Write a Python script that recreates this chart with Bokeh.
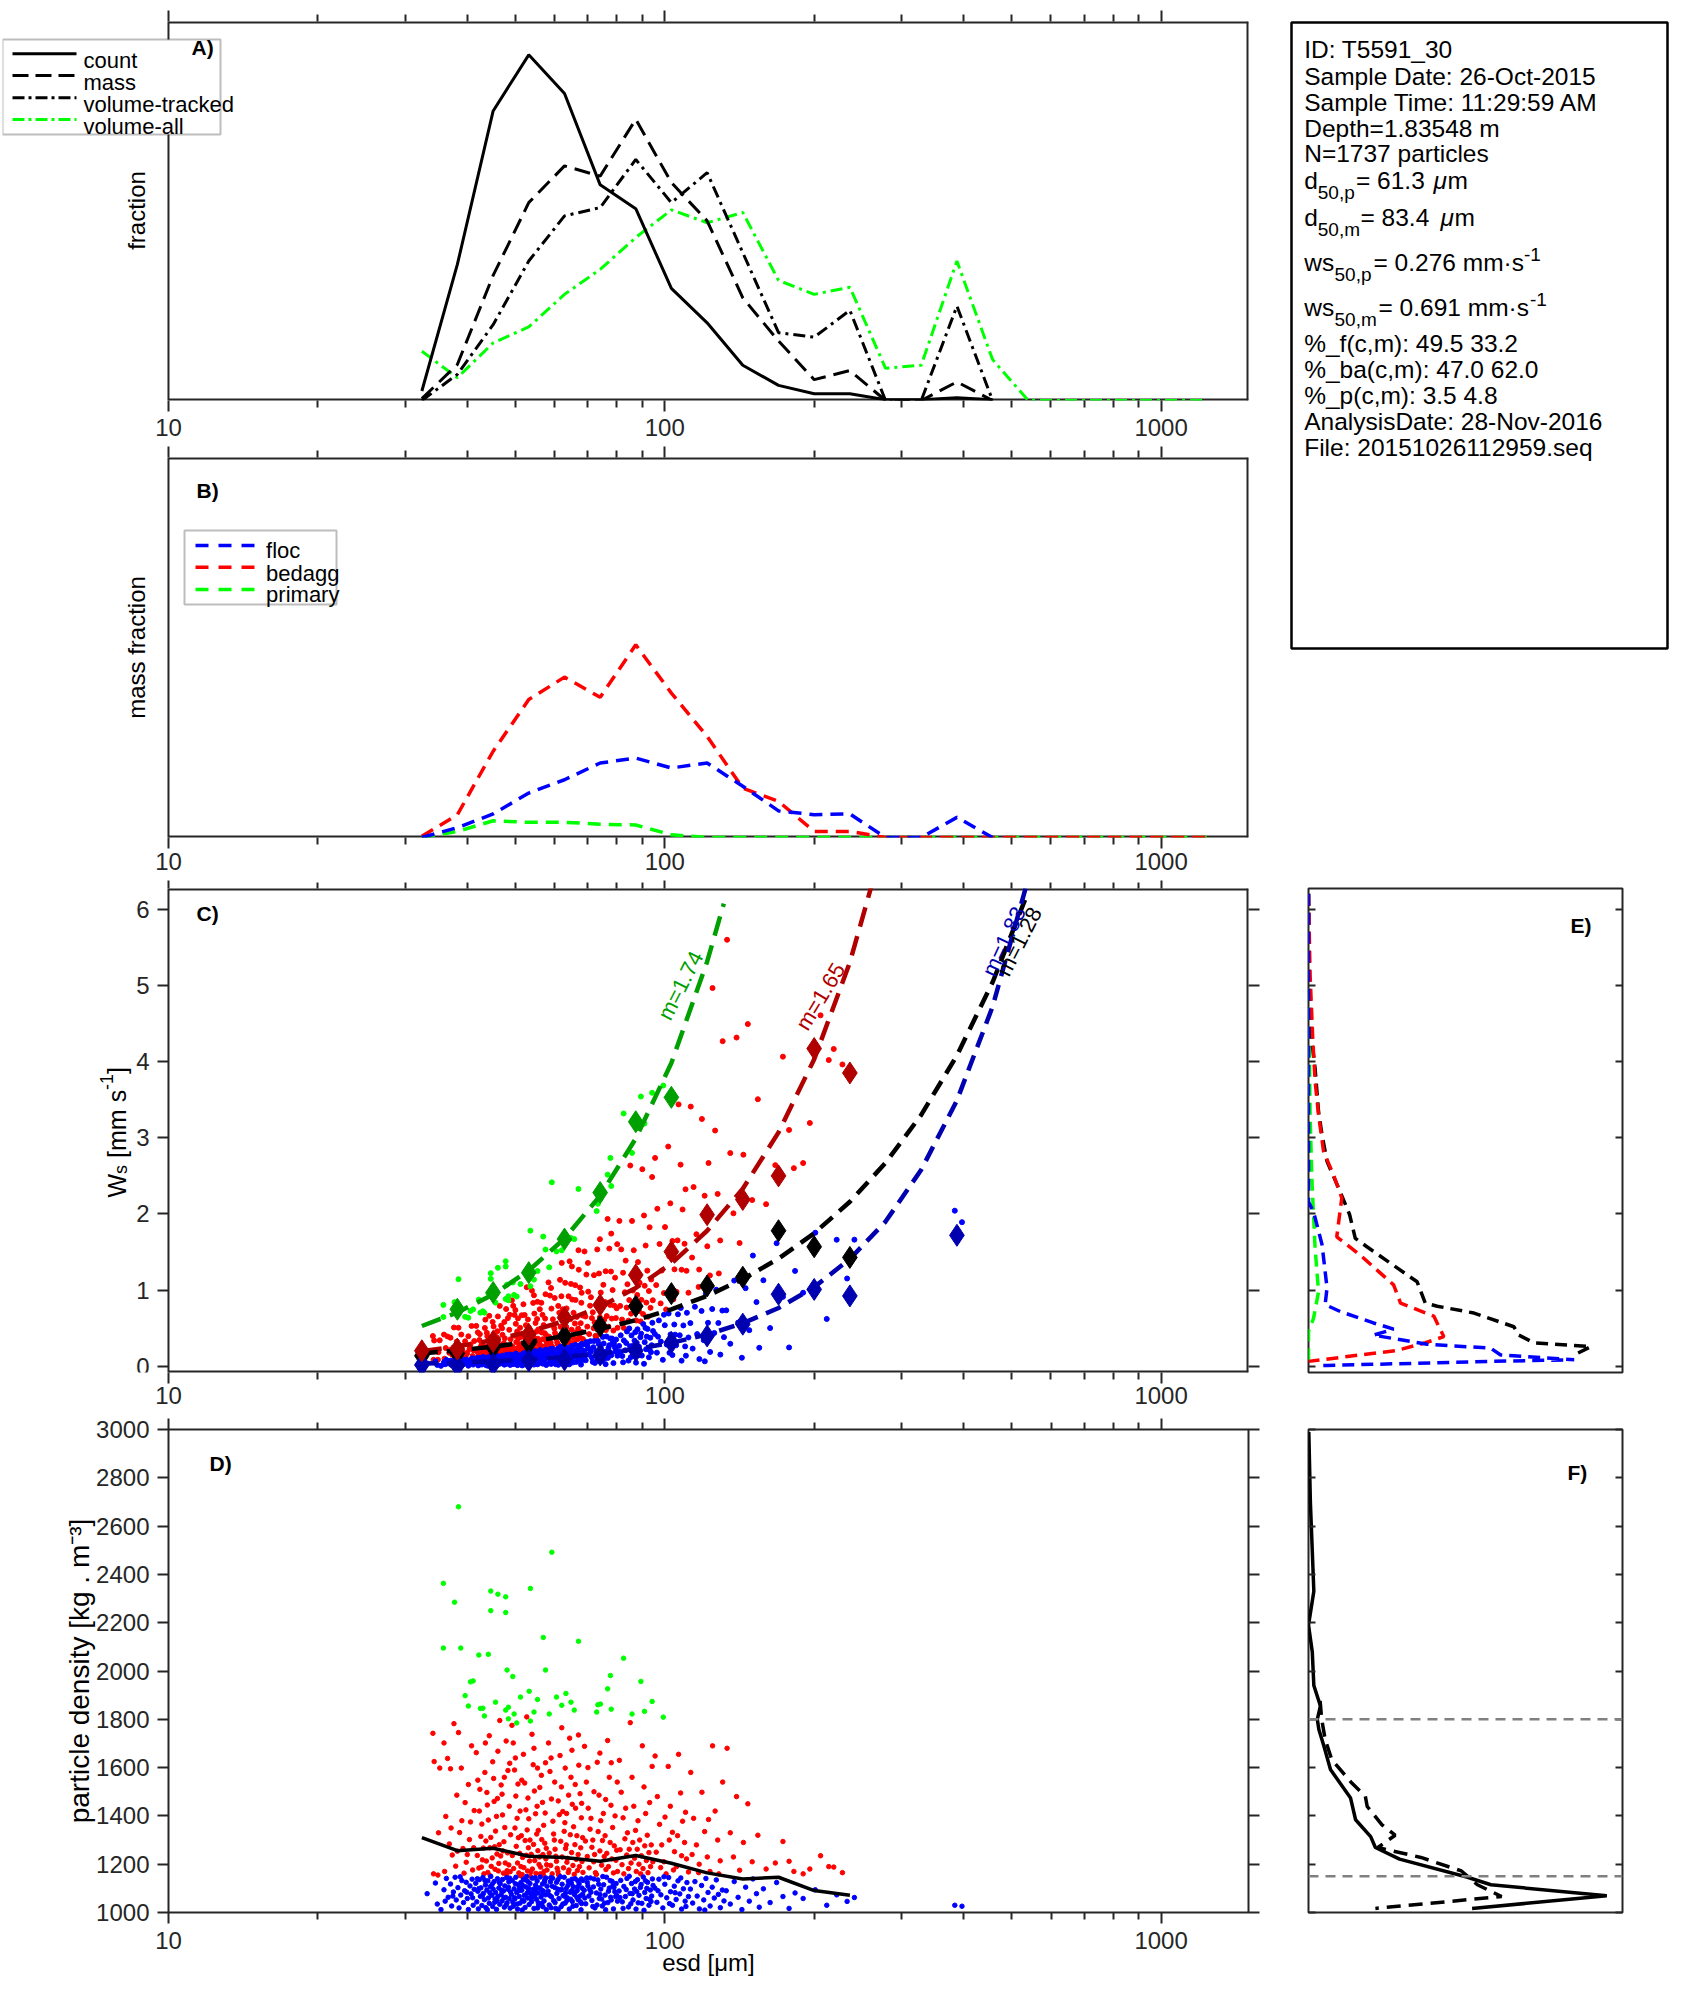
from math import pi
from bokeh.plotting import figure
from bokeh.layouts import column, row
from bokeh.models import (FixedTicker, LogAxis, LinearAxis, NumeralTickFormatter,
                          Label, Arrow, PolyAnnotation, Span)
from bokeh.embed import file_html
from bokeh.resources import INLINE

FONT = "Liberation Sans"
AX = "#262626"

# ---------------- data ----------------
ESD = [32.4, 38.2, 45.1, 53.2, 62.8, 74.1, 87.4, 103.1, 121.7, 143.6, 169.5,
       200.0, 236.0, 278.5, 328.6, 387.8, 457.6, 540.0, 637.2, 752.0, 887.3,
       1047.0, 1235.5]

A_COUNT = [0.025, 0.359, 0.764, 0.912, 0.810, 0.569, 0.506, 0.296, 0.205, 0.093,
           0.040, 0.018, 0.018, 0.002, 0.002, 0.007, 0.002]
A_MASS = [0.005, 0.095, 0.33, 0.522, 0.619, 0.592, 0.742, 0.575, 0.474, 0.271,
          0.157, 0.055, 0.079, 0.0, 0.0, 0.049, 0.0]
A_VOL_TRK = [0.0, 0.069, 0.20, 0.368, 0.487, 0.509, 0.636, 0.522, 0.601, 0.39,
             0.179, 0.167, 0.238, 0.0, 0.0, 0.249, 0.0]
A_VOL_ALL = [0.130, 0.060, 0.152, 0.194, 0.280, 0.346, 0.430, 0.503, 0.469, 0.496,
             0.317, 0.280, 0.299, 0.085, 0.093, 0.368, 0.108, 0, 0, 0, 0, 0, 0]

B_FLOC = [0.0, 0.026, 0.062, 0.117, 0.152, 0.196, 0.209, 0.183, 0.196, 0.135,
          0.070, 0.060, 0.062, 0.0, 0.0, 0.053, 0.0]
B_BEDAGG = [0.003, 0.060, 0.227, 0.363, 0.422, 0.369, 0.507, 0.380, 0.266, 0.130,
            0.095, 0.016, 0.016, 0, 0, 0, 0, 0, 0, 0, 0, 0, 0]
B_PRIMARY = [0.0, 0.016, 0.044, 0.040, 0.040, 0.035, 0.033, 0.007, 0, 0, 0, 0, 0,
             0, 0, 0, 0, 0, 0, 0, 0, 0, 0]

C_MED_PRIMARY = [0.75, 0.97, 1.23, 1.67, 2.28, 3.21, 3.53]
C_MED_BEDAGG = [0.205, 0.227, 0.327, 0.423, 0.64, 0.807, 1.2, 1.505, 1.99, 2.19,
                2.50, 4.17, 3.85]
C_MED_ALL = [0.14, 0.17, 0.25, 0.30, 0.40, 0.53, 0.79, 0.955, 1.056, 1.17, 1.78,
             1.57, 1.43]
C_MED_FLOC_ESD = [32.4, 38.2, 45.1, 53.2, 62.8, 74.1, 87.4, 103.1, 121.7, 143.6,
                  169.5, 200.0, 236.0, 387.8]
C_MED_FLOC = [0.02, 0.01, 0.03, 0.074, 0.087, 0.15, 0.205, 0.314, 0.40, 0.554,
              0.947, 1.01, 0.925, 1.72]

FIT_PRIMARY_ESD = [32.4, 38.2, 45.1, 53.2, 62.8, 74.1, 87.4, 103.1, 121.7, 131.5]
FIT_PRIMARY = [0.53, 0.707, 0.943, 1.258, 1.678, 2.24, 2.99, 3.98, 5.31, 6.07]
FIT_BEDAGG = [0.2, 0.263, 0.345, 0.454, 0.596, 0.783, 1.03, 1.35, 1.78, 2.33, 3.07,
              4.03, 5.30, 6.96]
FIT_ALL = [0.17, 0.21, 0.26, 0.321, 0.397, 0.490, 0.606, 0.749, 0.925, 1.144,
           1.414, 1.747, 2.16, 2.67, 3.30, 4.08, 5.04, 6.23]
FIT_FLOC = [0.037, 0.050, 0.068, 0.092, 0.124, 0.168, 0.228, 0.309, 0.418, 0.566,
            0.766, 1.04, 1.41, 1.90, 2.58, 3.49, 4.72, 6.40]
FIT_LABELS = ["m=1.74", "m=1.65", "m=1.28", "m=1.83"]

D_MED = [1310, 1256, 1266, 1233, 1228, 1212, 1236, 1204, 1164, 1139, 1146, 1091, 1071]

P_PRIMARY = [(38.4,2680),(35.8,2363),(37.7,2285),(35.8,2095),(38.8,2095),(44.6,2331),
 (46.1,2318),(47.8,2307),(44.6,2250),(47.8,2242),(53.6,2342),(59.2,2492),(56.9,2139),
 (42.2,2066),(44.1,2069),(67.0,2123),(57.5,2004),(48.1,2004),(49.4,1977),(41.1,1959),
 (40.6,1955),(39.6,1898),(82.6,2053),(77.7,1981),(89.5,1957),(76.7,1926),(63.2,1907),
 (60.5,1892),(53.3,1916),(51.2,1892),(55.4,1882),(64.7,1871),(62.0,1858),(45.6,1871),
 (42.5,1845),(43.0,1846),(48.4,1850),(47.8,1838),(65.7,1838),(40.2,1855),(73.3,1860),
 (74.2,1863),(94.3,1874),(91.0,1833),(78.0,1842),(72.9,1830),(43.3,1814),(48.4,1802),
 (49.7,1822),(54.5,1830),(58.5,1822),(85.9,1822),(99.3,1809),(53.6,1793),(50.3,1785)]

P_BEDAGG = [(34.1,1742),(34.3,1625),(35.2,1598),(35.0,1330),(34.2,1160),(34.9,1155),
 (35.9,1702),(36.5,1638),(37.0,1595),(37.6,1782),(38.1,1486),(38.4,1745),(39.0,1380),
 (39.6,1455),(40.2,1530),(40.8,1690),(36.2,1398),(36.8,1284),(37.3,1238),(37.9,1192),
 (38.6,1331),(39.2,1265),(39.8,1208),(40.4,1302),(41.0,1176),(41.3,1422),(36.0,1170),
 (37.1,1350),(38.2,1254),(39.4,1163),(40.0,1240),(40.6,1375),(41.2,1268),(38.9,1598),
 (41.7,1662),(42.0,1548),(42.3,1420),(42.6,1315),(42.9,1218),(43.2,1160),(43.5,1702),
 (43.8,1497),(44.1,1383),(44.4,1268),(44.7,1191),(45.0,1624),(45.3,1460),(45.6,1337),
 (45.9,1242),(46.2,1172),(46.5,1795),(46.8,1528),(47.1,1404),(47.4,1293),(47.7,1205),
 (48.0,1158),(48.3,1588),(48.6,1440),(48.9,1322),(41.9,1236),(42.2,1184),(42.8,1366),
 (43.1,1267),(43.7,1213),(44.0,1166),(44.6,1311),(44.9,1226),(45.5,1179),(45.8,1398),
 (46.4,1281),(46.7,1234),(47.3,1163),(47.6,1352),(48.2,1247),(48.5,1197),(48.8,1169),
 (42.4,1510),(43.4,1580),(44.3,1732),(45.2,1555),(46.1,1668),(47.0,1490),(47.9,1710),
 (48.7,1618),(42.7,1188),(43.6,1296),(44.5,1152),(45.4,1272),(46.3,1203),(47.2,1255),
 (48.1,1173),(46.0,1472),(43.9,1445),(47.5,1560),
 (49.2,1775),(49.5,1702),(49.8,1590),(50.1,1482),(50.4,1390),(50.7,1310),(51.0,1245),
 (51.3,1190),(51.6,1157),(51.9,1655),(52.2,1536),(52.5,1425),(52.8,1342),(53.1,1268),
 (53.4,1213),(53.7,1168),(54.0,1738),(54.3,1612),(54.6,1503),(54.9,1409),(55.2,1325),
 (55.5,1256),(55.8,1199),(56.1,1160),(56.4,1568),(56.7,1456),(57.0,1361),(57.3,1287),
 (57.6,1222),(57.9,1176),(49.3,1236),(49.6,1182),(49.9,1350),(50.2,1274),(50.5,1205),
 (50.8,1164),(51.1,1420),(51.4,1318),(51.7,1228),(52.0,1186),(52.3,1298),(52.6,1237),
 (52.9,1172),(53.2,1388),(53.5,1300),(53.8,1241),(54.1,1180),(54.4,1282),(54.7,1215),
 (55.0,1162),(55.3,1440),(55.6,1340),(55.9,1230),(56.2,1188),(56.5,1302),(56.8,1240),
 (57.1,1170),(57.4,1412),(57.7,1266),(57.8,1198),(50.0,1640),(51.5,1548),(53.0,1474),
 (54.5,1680),(56.0,1518),(57.5,1620),(52.7,1810),(50.6,1532),(55.4,1598),(53.6,1150),
 (51.2,1152),(56.9,1155),
 (58.3,1702),(58.7,1584),(59.1,1470),(59.5,1378),(59.9,1300),(60.3,1233),(60.7,1183),
 (61.1,1156),(61.5,1650),(61.9,1520),(62.3,1418),(62.7,1336),(63.1,1265),(63.5,1208),
 (63.9,1166),(64.3,1722),(64.7,1560),(65.1,1448),(65.5,1355),(65.9,1281),(66.3,1220),
 (66.7,1174),(67.1,1610),(67.5,1492),(67.9,1392),(68.3,1310),(58.5,1246),(58.9,1195),
 (59.3,1160),(59.7,1325),(60.1,1262),(60.5,1212),(60.9,1170),(61.3,1405),(61.7,1295),
 (62.1,1230),(62.5,1185),(62.9,1372),(63.3,1280),(63.7,1224),(64.1,1176),(64.5,1322),
 (64.9,1248),(65.3,1195),(65.7,1158),(66.1,1432),(66.5,1318),(66.9,1240),(67.3,1190),
 (67.7,1268),(68.1,1211),(68.4,1166),(59.0,1640),(60.0,1540),(61.0,1462),(62.0,1765),
 (63.0,1598),(64.0,1486),(65.0,1672),(66.0,1530),(67.0,1735),(68.0,1452),(63.4,1410),
 (68.9,1688),(69.5,1540),(70.1,1432),(70.7,1345),(71.3,1270),(71.9,1210),(72.5,1165),
 (73.1,1622),(73.7,1486),(74.3,1380),(74.9,1298),(75.5,1232),(76.1,1178),(76.7,1712),
 (77.3,1560),(77.9,1444),(78.5,1352),(79.1,1276),(79.7,1216),(80.3,1170),(69.2,1296),
 (69.8,1232),(70.4,1185),(71.0,1390),(71.6,1300),(72.2,1240),(72.8,1158),(73.4,1335),
 (74.0,1255),(74.6,1196),(75.2,1410),(75.8,1318),(76.4,1245),(77.0,1190),(77.6,1290),
 (78.2,1222),(78.8,1164),(79.4,1400),(80.0,1258),(70.0,1600),(72.0,1500),(74.0,1660),
 (76.0,1468),(78.0,1620),(80.2,1540),
 (81.0,1630),(81.7,1498),(82.4,1392),(83.1,1305),(83.8,1238),(84.5,1182),(85.2,1786),
 (85.9,1560),(86.6,1440),(87.3,1340),(88.0,1262),(88.7,1200),(89.4,1160),(90.1,1690),
 (90.8,1520),(91.5,1410),(92.2,1320),(92.9,1248),(93.6,1190),(94.3,1605),(81.3,1260),
 (82.0,1198),(82.7,1160),(83.4,1432),(84.1,1330),(84.8,1262),(85.5,1205),(86.2,1290),
 (86.9,1225),(87.6,1170),(88.3,1380),(89.0,1300),(89.7,1235),(90.4,1182),(91.1,1276),
 (91.8,1215),(92.5,1165),(93.2,1455),(93.9,1280),(94.6,1210),
 (95.6,1648),(96.6,1480),(97.6,1365),(98.6,1280),(99.6,1210),(100.6,1160),(101.6,1605),
 (102.6,1440),(103.6,1332),(104.6,1252),(105.6,1190),(106.6,1655),(107.6,1495),
 (108.6,1378),(109.6,1290),(110.6,1222),(111.6,1168),(96.1,1250),(98.1,1186),
 (100.1,1395),(102.1,1300),(104.1,1176),(106.1,1318),(108.1,1235),(110.1,1415),
 (112.8,1580),(114.3,1390),(115.8,1280),(117.3,1200),(118.8,1498),(120.3,1335),
 (121.8,1230),(123.3,1170),(124.8,1690),(126.3,1420),(127.8,1300),(129.3,1214),
 (130.8,1540),(113.5,1240),(117.0,1165),(122.5,1385),(128.5,1160),
 (133.5,1680),(135.5,1330),(137.5,1230),(139.5,1480),(141.5,1175),(144.0,1290),
 (147.0,1450),(150.0,1210),(154.0,1320),(160.0,1180),(167.0,1205),(173.0,1294),
 (178.0,1212),(182.0,1170),(190.0,1160),(196.0,1180),(206.0,1235),(214.0,1190),
 (219.0,1188),(228.0,1165)]

P_FLOC = [(33.2,1078),(34.5,1122),(34.8,1035),
 (35.4,1012),(35.9,1094),(36.3,1141),(36.6,1063),(37.0,1118),(37.2,1027),(37.5,1085),
 (37.8,1146),(38.0,1052),(38.3,1103),(38.5,1019),(38.8,1072),(39.0,1132),(39.3,1041),
 (39.5,1090),(39.8,1125),(40.0,1058),(40.2,1012),(40.5,1110),(40.7,1077),(40.9,1138),
 (41.1,1030),(41.3,1096),(36.1,1047),(37.4,1068),(38.7,1148),(39.9,1084),(41.0,1061),
 (41.6,1121),(41.8,1044),(42.0,1088),(42.1,1015),(42.3,1136),(42.5,1067),(42.6,1102),
 (42.8,1029),(43.0,1145),(43.1,1079),(43.3,1053),(43.5,1114),(43.6,1020),(43.8,1093),
 (44.0,1131),(44.1,1060),(44.3,1038),(44.5,1107),(44.6,1149),(44.8,1071),(45.0,1025),
 (45.1,1097),(45.3,1128),(45.5,1056),(45.6,1083),(45.8,1013),(46.0,1140),(46.1,1066),
 (46.3,1101),(46.5,1034),(46.6,1119),(46.8,1075),(47.0,1048),(47.1,1137),(47.3,1089),
 (47.5,1022),(47.6,1110),(47.8,1063),(48.0,1144),(48.1,1040),(48.3,1096),(48.5,1127),
 (48.6,1057),(48.8,1018),(48.9,1085),(42.2,1099),(43.4,1133),(44.4,1082),(45.4,1042),
 (46.4,1124),(47.4,1061),(48.4,1105),(42.9,1070),(44.9,1117),(46.9,1092),(47.9,1031),
 (41.9,1140),(43.9,1011),(45.9,1050),(48.7,1142),
 (49.1,1074),(49.3,1132),(49.5,1026),(49.7,1098),(49.9,1057),(50.1,1146),(50.3,1083),
 (50.5,1014),(50.7,1115),(50.9,1066),(51.1,1039),(51.3,1124),(51.5,1092),(51.7,1051),
 (51.9,1138),(52.1,1071),(52.3,1021),(52.5,1106),(52.7,1149),(52.9,1060),(53.1,1087),
 (53.3,1033),(53.5,1120),(53.7,1078),(53.9,1045),(54.1,1142),(54.3,1096),(54.5,1017),
 (54.7,1069),(54.9,1113),(55.1,1055),(55.3,1130),(55.5,1081),(55.7,1028),(55.9,1102),
 (56.1,1147),(56.3,1064),(56.5,1037),(56.7,1118),(56.9,1089),(57.1,1048),(57.3,1135),
 (57.5,1073),(57.7,1012),(57.9,1109),(49.4,1043),(50.0,1119),(50.8,1090),(51.6,1010),
 (52.4,1135),(53.2,1100),(54.0,1062),(54.8,1144),(55.6,1040),(56.4,1094),(57.2,1126),
 (49.8,1061),(51.0,1101),(52.0,1047),(53.0,1128),(54.4,1082),(55.4,1019),(56.6,1075),
 (57.6,1143),(50.4,1035),(51.8,1111),(53.6,1059),(55.0,1096),(56.8,1024),(52.8,1080),
 (58.2,1088),(58.5,1031),(58.8,1127),(59.1,1065),(59.4,1142),(59.7,1049),(60.0,1104),
 (60.3,1017),(60.6,1079),(60.9,1136),(61.2,1058),(61.5,1093),(61.8,1024),(62.1,1117),
 (62.4,1070),(62.7,1146),(63.0,1039),(63.3,1099),(63.6,1061),(63.9,1130),(64.2,1014),
 (64.5,1084),(64.8,1122),(65.1,1046),(65.4,1107),(65.7,1075),(66.0,1140),(66.3,1029),
 (66.6,1091),(66.9,1053),(67.2,1119),(67.5,1068),(67.8,1011),(68.1,1101),(68.4,1133),
 (58.6,1071),(59.3,1109),(60.1,1041),(60.8,1097),(61.6,1148),(62.3,1035),(63.1,1081),
 (63.8,1112),(64.6,1055),(65.3,1026),(66.1,1086),(66.8,1131),(67.6,1044),(68.3,1076),
 (59.0,1020),(60.5,1125),(62.0,1095),(63.5,1050),(65.0,1138),(66.5,1063),(68.0,1037),
 (58.9,1144),(61.0,1012),(62.9,1067),(64.9,1090),(66.7,1106),(67.9,1139),
 (68.8,1092),(69.3,1036),(69.8,1124),(70.3,1068),(70.8,1143),(71.3,1050),(71.8,1106),
 (72.3,1019),(72.8,1081),(73.3,1135),(73.8,1058),(74.3,1097),(74.8,1027),(75.3,1115),
 (75.8,1072),(76.3,1146),(76.8,1041),(77.3,1101),(77.8,1063),(78.3,1129),(78.8,1015),
 (79.3,1086),(79.8,1120),(80.3,1047),(69.0,1060),(70.0,1110),(71.0,1084),(72.0,1139),
 (73.0,1031),(74.0,1075),(75.0,1149),(76.0,1011),(77.0,1088),(78.0,1052),(79.0,1104),
 (80.0,1070),(69.6,1143),(71.6,1025),(73.6,1117),(75.6,1039),(77.6,1132),(79.6,1066),
 (70.6,1095),(74.6,1056),(78.6,1110),
 (80.9,1089),(81.5,1133),(82.1,1044),(82.7,1108),(83.3,1066),(83.9,1141),(84.5,1023),
 (85.1,1079),(85.7,1120),(86.3,1052),(86.9,1097),(87.5,1014),(88.1,1136),(88.7,1071),
 (89.3,1104),(89.9,1038),(90.5,1147),(91.1,1083),(91.7,1058),(92.3,1125),(92.9,1030),
 (93.5,1093),(94.1,1068),(94.7,1112),(81.2,1062),(82.4,1017),(83.6,1095),(84.8,1150),
 (86.0,1078),(87.2,1128),(88.4,1040),(89.6,1116),(90.8,1009),(92.0,1100),(93.2,1055),
 (94.4,1139),(85.4,1036),(87.8,1087),(91.4,1131),(93.8,1046),
 (95.5,1101),(96.4,1042),(97.3,1138),(98.2,1073),(99.1,1019),(100.0,1117),(100.9,1061),
 (101.8,1145),(102.7,1086),(103.6,1030),(104.5,1109),(105.4,1054),(106.3,1131),
 (107.2,1077),(108.1,1014),(109.0,1098),(109.9,1047),(110.8,1124),(111.6,1066),
 (96.9,1090),(99.6,1148),(102.2,1037),(104.9,1082),(107.7,1143),(110.3,1025),
 (112.6,1097),(113.8,1039),(115.0,1128),(116.2,1068),(117.4,1015),(118.6,1112),
 (119.8,1052),(121.0,1141),(122.2,1083),(123.4,1027),(124.6,1105),(125.8,1060),
 (127.0,1135),(128.2,1075),(129.4,1020),(130.6,1093),(131.6,1048),(120.4,1010),
 (133.0,1090),(135.5,1035),(138.0,1128),(140.5,1063),(143.0,1012),(145.5,1105),
 (148.0,1047),(150.5,1139),(153.0,1078),(155.0,1022),(158.0,1098),(163.0,1041),
 (168.0,1124),(173.0,1066),(178.0,1017),(183.0,1081),(190.0,1058),(201.0,1094),
 (212.0,1030),(222.0,1073),(233.0,1046),(241.0,1062),(384.0,1030),(397.0,1026)]

# Stokes settling: ws[mm/s] = g (rho - rho_w) d^2 / (18 mu), d in um
G, RHO_W, MU = 9.81, 1000.0, 0.00118

E_ALL_X = [0, 0.003, 0.011, 0.021, 0.032, 0.043, 0.059, 0.101, 0.131, 0.149, 0.186,
           0.346, 0.372, 0.410, 0.527, 0.654, 0.670, 0.718, 0.899, 0.846]
E_ALL_WS = [6.2, 5.05, 4.26, 3.91, 3.34, 3.04, 2.69, 2.29, 1.99, 1.68, 1.57, 1.11,
            0.83, 0.79, 0.70, 0.52, 0.41, 0.31, 0.26, 0.15]
E_BEDAGG_X = [0, 0.005, 0.014, 0.021, 0.032, 0.048, 0.080, 0.106, 0.090, 0.165, 0.271,
              0.293, 0.399, 0.431, 0.372, 0.282, 0.0]
E_BEDAGG_WS = [6.2, 5.14, 4.26, 3.74, 3.30, 2.82, 2.51, 2.21, 1.70, 1.46, 1.07, 0.83,
               0.66, 0.39, 0.31, 0.21, 0.066]
E_FLOC_X = [0, 0, 0.016, 0.043, 0.059, 0.053, 0.101, 0.207, 0.271, 0.207, 0.378,
            0.580, 0.612, 0.846, 0.580, 0.282, 0.059, 0.03]
E_FLOC_WS = [6.2, 2.16, 2.03, 1.60, 1.03, 0.81, 0.72, 0.57, 0.49, 0.41, 0.29, 0.24,
             0.15, 0.087, 0.066, 0.035, 0.013, 0.012]
E_PRIM_X = [0, 0.003, 0.005, 0.011, 0.021, 0.032, 0.016, 0, 0]
E_PRIM_WS = [6.2, 4.17, 3.30, 2.43, 1.55, 0.98, 0.63, 0.46, 0.0]

F_CNT_X = [0.001, 0.006, 0.017, 0.0, 0.012, 0.017, 0.038, 0.028, 0.033, 0.049, 0.070,
           0.134, 0.150, 0.198, 0.213, 0.290, 0.504, 0.581, 0.950, 0.521]
F_CNT_RHO = [2990, 2700, 2330, 2190, 2080, 1940, 1855, 1800, 1758, 1689, 1592, 1474,
             1384, 1314, 1269, 1221, 1147, 1115, 1069, 1017]
F_MASS_X = [0.037, 0.042, 0.053, 0.074, 0.138, 0.181, 0.187, 0.234, 0.276, 0.221,
            0.358, 0.487, 0.538, 0.615, 0.213]
F_MASS_RHO = [1876, 1800, 1717, 1633, 1536, 1481, 1439, 1363, 1320, 1269, 1228, 1172,
              1115, 1066, 1017]
F_LIMITS = [1800, 1150]

X_MAJOR = [10, 100, 1000]
X_MINOR = [20, 30, 40, 50, 60, 70, 80, 90, 200, 300, 400, 500, 600, 700, 800, 900]
X_LIM = (10, 1500)
WS_LIM = (-0.08, 6.27)
WS_TICKS = [0, 1, 2, 3, 4, 5, 6]
RHO_TICKS = [1000, 1200, 1400, 1600, 1800, 2000, 2200, 2400, 2600, 2800, 3000]

INFO_PLAIN = [("ID: T5591_30", 49.3), ("Sample Date: 26-Oct-2015", 76),
              ("Sample Time: 11:29:59 AM", 101.7), ("Depth=1.83548 m", 127.7),
              ("N=1737 particles", 153), ("%_f(c,m): 49.5 33.2", 343),
              ("%_ba(c,m): 47.0 62.0", 369), ("%_p(c,m): 3.5 4.8", 395),
              ("AnalysisDate: 28-Nov-2016", 421), ("File: 20151026112959.seq", 447)]

GREEN = "#00FF00"
DKGREEN = "#00A000"
DKRED = "#B00000"
DKBLUE = "#0000B0"


# ---------------- helpers ----------------
def mkfig(w, h, bl, br, bt, bb, xr, yr, xlog=True, outline=True):
    p = figure(width=w, height=h, x_range=xr, y_range=yr,
               x_axis_type="log" if xlog else "linear",
               toolbar_location=None, output_backend="svg",
               min_border_left=bl, min_border_right=br,
               min_border_top=bt, min_border_bottom=bb)
    p.grid.visible = False
    p.outline_line_color = AX if outline else None
    p.outline_line_width = 2
    p.background_fill_color = "white"
    p.border_fill_color = "white"
    return p


def style_axis(ax, out, mout, tin=0, min_=0, hidden=False, standoff=7):
    ax.axis_line_color = None
    ax.major_tick_out = out
    ax.major_tick_in = tin
    ax.minor_tick_out = mout
    ax.minor_tick_in = min_
    ax.major_tick_line_color = AX
    ax.major_tick_line_width = 2
    ax.minor_tick_line_color = AX
    ax.minor_tick_line_width = 2
    ax.major_label_text_font = FONT
    ax.major_label_text_color = AX
    if hidden:
        ax.major_label_text_font_size = "1px"
        ax.major_label_text_alpha = 0.0
        ax.major_label_standoff = 0
    else:
        ax.major_label_text_font_size = "24px"
        ax.major_label_standoff = standoff


def x_axes(p, standoff, top_out=11, top_mout=7):
    tk = FixedTicker(ticks=X_MAJOR, minor_ticks=X_MINOR)
    ax = p.below[0]
    ax.ticker = tk
    ax.formatter = NumeralTickFormatter(format="0")
    style_axis(ax, 11, 7, standoff=standoff)
    top = LogAxis(ticker=tk, formatter=NumeralTickFormatter(format="0"))
    style_axis(top, top_out, top_mout, hidden=True)
    p.add_layout(top, "above")
    return ax


def y_axes(p, ticks, labels=True, out=11, tin=0, standoff=8):
    tk = FixedTicker(ticks=ticks, minor_ticks=[])
    ax = p.left[0]
    ax.ticker = tk
    ax.formatter = NumeralTickFormatter(format="0")
    style_axis(ax, out, 0, tin=tin, hidden=not labels, standoff=standoff)
    r = LinearAxis(ticker=tk, formatter=NumeralTickFormatter(format="0"))
    style_axis(r, out, 0, tin=tin, hidden=True)
    p.add_layout(r, "right")
    return ax


def axis_title(ax, text, size, standoff):
    ax.axis_label = text
    ax.axis_label_text_font = FONT
    ax.axis_label_text_font_size = f"{size}px"
    ax.axis_label_text_font_style = "normal"
    ax.axis_label_text_color = "black"
    ax.axis_label_standoff = standoff


def data_box(p, x0, x1, y0, y1):
    # box of the data area when the frame is wider than the data area
    p.add_layout(Span(location=x0, dimension="height", line_color=AX, line_width=2))
    p.segment(x0=[x0, x0, x1], y0=[y0, y1, y0], x1=[x1, x1, x1], y1=[y0, y1, y1],
              line_color=AX, line_width=4)


def txt(p, fr, X, Y, s, size, color="black", style="normal", angle=0.0,
        align="left", baseline="alphabetic"):
    fl, fb = fr
    p.add_layout(Label(x=X - fl, y=fb - Y, x_units="screen", y_units="screen",
                       text=s, text_font=FONT, text_font_size=f"{size}px",
                       text_color=color, text_font_style=style, angle=angle,
                       text_align=align, text_baseline=baseline))


def seg(p, fr, X0, X1, Y, color, width, dash="solid"):
    fl, fb = fr
    p.add_layout(Arrow(end=None, x_start=X0 - fl, y_start=fb - Y, x_end=X1 - fl,
                       y_end=fb - Y, start_units="screen", end_units="screen",
                       line_color=color, line_width=width, line_dash=dash))


def box(p, fr, X0, X1, Y0, Y1):
    fl, fb = fr
    p.add_layout(PolyAnnotation(xs=[X0 - fl, X1 - fl, X1 - fl, X0 - fl],
                                ys=[fb - Y0, fb - Y0, fb - Y1, fb - Y1],
                                xs_units="screen", ys_units="screen",
                                fill_color="white", fill_alpha=1.0,
                                line_color=AX, line_width=2))


# frame positions on the page (left, bottom) in px
FA = (2, 400)
FB = (2, 837)
FC = (2, 1372)
FD = (168, 1912)
FE = (1308, 1372)
FF = (1308, 1912)
FI = (1291, 648)
# x range for frames that start at x=2 so that 10 um sits at x=168
XR_WIDE = (4.63, 1500)

# ---------------- panel A ----------------
pA = mkfig(1270, 444, 2, 22, 21, 44, XR_WIDE, (0, 1), outline=False)
pA.yaxis.visible = False
x_axes(pA, 7)
data_box(pA, X_LIM[0], X_LIM[1], 0, 1)
nA = len(A_COUNT)
pA.line(ESD, A_VOL_ALL, line_color=GREEN, line_width=3, line_dash="12 5 3 5")
pA.line(ESD[:nA], A_VOL_TRK, line_color="black", line_width=3, line_dash="12 5 3 5")
pA.line(ESD[:nA], A_MASS, line_color="black", line_width=3, line_dash="16 8")
pA.line(ESD[:nA], A_COUNT, line_color="black", line_width=3)
txt(pA, FA, 135.5, 210, "fraction", 24, angle=pi / 2, align="center", baseline="middle")
box(pA, FA, 2, 220, 39, 134)
for (lab, yl, yt, col, dash) in [("count", 53.3, 60, "black", "solid"),
                                 ("mass", 75, 81.7, "black", "16 7"),
                                 ("volume-tracked", 97.3, 104.3, "black", "12 4 3 4"),
                                 ("volume-all", 119, 126, GREEN, "12 4 3 4")]:
    seg(pA, FA, 12, 76, yl, col, 3, dash)
    txt(pA, FA, 83, yt, lab, 22)
txt(pA, FA, 191, 47, "A)", 21, style="bold")

# ---------------- panel B ----------------
pB = mkfig(1270, 435, 2, 22, 13, 42, XR_WIDE, (0, 1), outline=False)
pB.yaxis.visible = False
x_axes(pB, 4)
data_box(pB, X_LIM[0], X_LIM[1], 0, 1)
nB = len(B_FLOC)
pB.line(ESD, B_PRIMARY, line_color=GREEN, line_width=3.5, line_dash="13 8")
pB.line(ESD, B_BEDAGG, line_color="#FF0000", line_width=3.5, line_dash="13 8")
pB.line(ESD[:nB], B_FLOC, line_color="#0000FF", line_width=3.5, line_dash="13 8")
txt(pB, FB, 135.5, 647, "mass fraction", 24, angle=pi / 2, align="center", baseline="middle")
box(pB, FB, 184, 336, 530, 604)
for (lab, yl, yt, col) in [("floc", 545, 550, "#0000FF"), ("bedagg", 566.7, 572.7, "#FF0000"),
                           ("primary", 589, 594, GREEN)]:
    seg(pB, FB, 195, 257, yl, col, 3.5, "13 10")
    txt(pB, FB, 265.6, yt, lab, 22)
txt(pB, FB, 196, 490, "B)", 21, style="bold")

# ---------------- info box ----------------
pI = figure(width=424, height=879, x_range=(0, 1), y_range=(0, 1),
            toolbar_location=None, output_backend="svg", x_axis_location=None,
            y_axis_location=None, min_border_left=21, min_border_right=27,
            min_border_top=22, min_border_bottom=231)
pI.grid.visible = False
pI.outline_line_color = "black"
pI.outline_line_width = 2.5
pI.border_fill_color = "white"
for s, yb in INFO_PLAIN:
    txt(pI, FI, 1303.7, yb, s, 24.5)
txt(pI, FI, 1303.7, 180, "d", 24.5)
txt(pI, FI, 1317.3, 192, "50,p", 19)
txt(pI, FI, 1355.5, 180, "=  61.3", 24.5)
txt(pI, FI, 1433, 180, "\u03bc", 24.5, style="italic")
txt(pI, FI, 1447, 180, "m", 24.5)
txt(pI, FI, 1303.7, 217, "d", 24.5)
txt(pI, FI, 1317.3, 229, "50,m", 19)
txt(pI, FI, 1360, 217, "=  83.4", 24.5)
txt(pI, FI, 1440, 217, "\u03bc", 24.5, style="italic")
txt(pI, FI, 1454, 217, "m", 24.5)
txt(pI, FI, 1303.7, 262, "ws", 24.5)
txt(pI, FI, 1334, 274, "50,p", 19)
txt(pI, FI, 1373, 262, "= 0.276 mm\u00b7s", 24.5)
txt(pI, FI, 1523.5, 254, "-1", 19)
txt(pI, FI, 1303.7, 307, "ws", 24.5)
txt(pI, FI, 1334, 319, "50,m", 19)
txt(pI, FI, 1378, 307, "= 0.691 mm\u00b7s", 24.5)
txt(pI, FI, 1529.5, 299, "-1", 19)

# ---------------- panel C ----------------
pC = mkfig(1270, 535, 2, 22, 9, 42, XR_WIDE, WS_LIM, outline=False)
x_axes(pC, 3, top_out=8, top_mout=6)
axC = y_axes(pC, WS_TICKS, labels=True, out=11, standoff=8)
axC.fixed_location = X_LIM[0]
data_box(pC, X_LIM[0], X_LIM[1], WS_LIM[0], WS_LIM[1])


def settle(parts):
    k = G * 1e-9 / (18.0 * MU)
    return [d for d, r in parts], [k * (r - RHO_W) * d * d for d, r in parts]


for parts, col in [(P_BEDAGG, "#FF0000"), (P_FLOC, "#0000FF"), (P_PRIMARY, GREEN)]:
    xs, ys = settle(parts)
    pC.scatter(xs, ys, marker="circle", size=5, color=col)

pC.line(FIT_PRIMARY_ESD, FIT_PRIMARY, line_color=DKGREEN, line_width=4.5, line_dash="20 10")
pC.line(ESD[:len(FIT_BEDAGG)], FIT_BEDAGG, line_color=DKRED, line_width=4.5, line_dash="20 10")
pC.line(ESD[:len(FIT_ALL)], FIT_ALL, line_color="black", line_width=4.5, line_dash="16 9")
pC.line(ESD[:len(FIT_FLOC)], FIT_FLOC, line_color=DKBLUE, line_width=4.5, line_dash="16 9")

pC.scatter(ESD[:len(C_MED_ALL)], C_MED_ALL, marker="diamond", size=22, color="black")
pC.scatter(C_MED_FLOC_ESD, C_MED_FLOC, marker="diamond", size=22, color=DKBLUE)
pC.scatter(ESD[:len(C_MED_BEDAGG)], C_MED_BEDAGG, marker="diamond", size=22, color=DKRED)
pC.scatter(ESD[1:1 + len(C_MED_PRIMARY)], C_MED_PRIMARY, marker="diamond", size=22, color=DKGREEN)

txt(pC, FC, 680, 985, FIT_LABELS[0], 22, color=DKGREEN, angle=63 * pi / 180,
    align="center", baseline="middle")
txt(pC, FC, 820, 996, FIT_LABELS[1], 22, color=DKRED, angle=59 * pi / 180,
    align="center", baseline="middle")
txt(pC, FC, 1003.4, 941, FIT_LABELS[3], 22, color=DKBLUE, angle=65 * pi / 180,
    align="center", baseline="middle")
txt(pC, FC, 1018.7, 941, FIT_LABELS[2], 22, color="black", angle=63 * pi / 180,
    align="center", baseline="middle")
# y label W_s [mm s^-1] with real sub/superscripts
txt(pC, FC, 116, 1197, "W", 25, angle=pi / 2)
txt(pC, FC, 120, 1173.4, "s", 18, angle=pi / 2)
txt(pC, FC, 116, 1157.4, "[mm s", 25, angle=pi / 2)
txt(pC, FC, 105.5, 1089.4, "-1", 18, angle=pi / 2)
txt(pC, FC, 116, 1073.4, "]", 25, angle=pi / 2)
txt(pC, FC, 196, 913, "C)", 21, style="bold")

# ---------------- panel E ----------------
pE = mkfig(424, 535, 38, 72, 9, 42, (0, 1), WS_LIM, xlog=False)
pE.xaxis.visible = False
y_axes(pE, WS_TICKS, labels=False, out=0, tin=7)
pE.line(E_PRIM_X, E_PRIM_WS, line_color=GREEN, line_width=3.5, line_dash="12 7")
pE.line(E_ALL_X, E_ALL_WS, line_color="black", line_width=3.5, line_dash="12 7")
pE.line(E_BEDAGG_X, E_BEDAGG_WS, line_color="#FF0000", line_width=3.5, line_dash="12 7")
pE.line(E_FLOC_X, E_FLOC_WS, line_color="#0000FF", line_width=3.5, line_dash="12 7")
txt(pE, FE, 1570, 925, "E)", 21, style="bold")

# ---------------- panel D ----------------
pD = mkfig(1270, 594, 168, 22, 15, 96, X_LIM, (1000, 3000))
axDx = x_axes(pD, 8, top_out=11, top_mout=7)
axDy = y_axes(pD, RHO_TICKS, labels=True, out=11, standoff=8)
axis_title(axDy, "particle density [kg . m\u207b\u00b3]", 28, -2)
axis_title(axDx, "esd [\u03bcm]", 24, -3)
for parts, col in [(P_BEDAGG, "#FF0000"), (P_FLOC, "#0000FF"), (P_PRIMARY, GREEN)]:
    pD.scatter([d for d, r in parts], [r for d, r in parts], marker="circle",
               size=4.5, color=col)
pD.line(ESD[:len(D_MED)], D_MED, line_color="black", line_width=3.5)
txt(pD, FD, 209, 1463, "D)", 21, style="bold")

# ---------------- panel F ----------------
pF = mkfig(424, 594, 38, 72, 15, 96, (0, 1), (1000, 3000), xlog=False)
pF.xaxis.visible = False
y_axes(pF, RHO_TICKS, labels=False, out=0, tin=7)
for loc in F_LIMITS:
    pF.add_layout(Span(location=loc, dimension="width", line_color="#808080",
                       line_width=2.5, line_dash="10 7"))
pF.line(F_MASS_X, F_MASS_RHO, line_color="black", line_width=3.5, line_dash="14 8")
pF.line(F_CNT_X, F_CNT_RHO, line_color="black", line_width=3.5)
txt(pF, FF, 1567, 1472, "F)", 21, style="bold")

layout = column(
    row(column(pA, pB, spacing=0), pI, spacing=0),
    row(pC, pE, spacing=0),
    row(pD, pF, spacing=0),
    spacing=0)

open("out.html", "w").write(file_html(layout, INLINE))
